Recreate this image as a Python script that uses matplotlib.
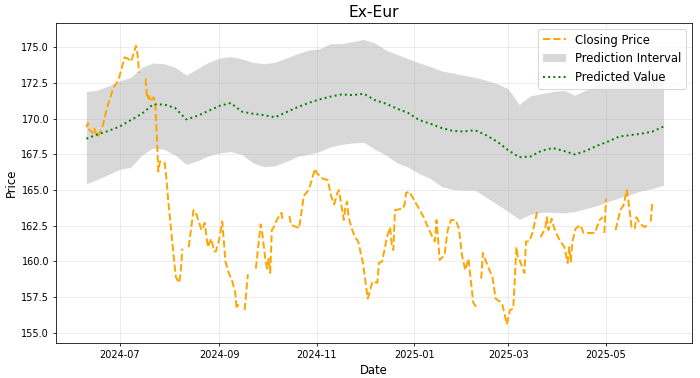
import numpy as np
import pandas as pd
import matplotlib
matplotlib.use('Agg')
import matplotlib.pyplot as plt
import matplotlib.dates as mdates

# %% data
start = pd.Timestamp('2024-06-10')
end = pd.Timestamp('2025-06-06')

pred_values = [
    168.6, 168.9, 169.15, 169.45, 169.9, 170.35, 171.0, 171.0, 170.75, 169.95,
    170.2, 170.55, 170.9, 171.1, 170.5, 170.35, 170.25, 170.1, 170.45, 170.8,
    171.1, 171.35, 171.55, 171.7, 171.65, 171.75, 171.3, 171.05, 170.7, 170.4,
    169.9, 169.65, 169.35, 169.15, 169.1, 169.2, 168.85, 168.4, 167.8, 167.3,
    167.35, 167.75, 167.95, 167.75, 167.5, 167.75, 168.1, 168.4, 168.75, 168.85,
    168.95, 169.1, 169.45,
]
upper_values = [
    171.9, 172.0, 172.3, 172.65, 172.9, 173.6, 173.9, 173.85, 173.6, 173.05,
    173.5, 173.95, 174.25, 174.35, 174.2, 173.95, 173.85, 173.95, 174.25, 174.55,
    174.8, 174.9, 175.26, 175.26, 175.4, 175.55, 175.3, 174.8, 174.5, 174.2,
    173.9, 173.65, 173.35, 173.2, 173.05, 172.9, 172.7, 172.45, 172.1, 171.0,
    171.6, 171.75, 171.9, 172.0, 171.65, 172.0, 172.3, 172.5, 172.7, 172.85,
    172.95, 173.05, 173.15,
]
lower_values = [
    165.45, 165.75, 166.1, 166.45, 166.6, 167.45, 167.95, 167.85, 167.45, 166.8,
    167.05, 167.4, 167.6, 167.7, 167.5, 166.9, 166.65, 166.7, 167.0, 167.35,
    167.5, 167.7, 168.03, 168.2, 168.3, 168.35, 167.85, 167.45, 166.9, 166.6,
    166.15, 165.8, 165.25, 165.05, 165.0, 165.0, 164.5, 164.0, 163.5, 162.95,
    163.3, 163.45, 163.45, 163.4, 163.5, 163.7, 163.9, 164.2, 164.45, 164.7,
    164.95, 165.1, 165.35,
]

# closing price: days since start, value (None = missing)
close_days = [
    0, 1, 2, 4, 5, 7, 10, 13, 17, 20, 22, 24, 26, 28, 31, 32, 33, 35,
    37, 38, 39, 40, 42, 43, 44, 45, 46, 48, 49, 50, 51, 53, 55, 56, 58, 59, 60, 62,
    64, 67, 69, 72, 73, 74, 76, 78, 80, 81, 83, 85, 87, 89, 91, 93, 94, 95, 97,
    99, 100, 101, 103,
    106, 109, 110, 112, 113, 114, 115, 116, 118, 119, 122, 123, 125,
    127, 128, 132, 133, 136, 139, 141, 143, 144, 148, 151, 153, 155, 157, 158,
    159, 161, 162, 163, 164, 166, 168, 170, 173, 176, 177, 179, 182, 183, 185,
    188, 190, 191, 192, 193, 198, 199, 200, 202, 205, 208, 211, 214, 217, 218,
    219, 220, 221, 224, 226, 228, 231, 233, 235, 237, 239, 242, 244, 246,
    247, 248, 251, 254, 256, 260, 263, 265, 267, 269, 270, 271, 274, 275, 277,
    279, 282, 283,
    284, 287, 288, 289, 291, 293, 296, 299, 301, 302, 303, 304, 306, 309, 311,
    315, 318, 321, 323, 323.5,
    324, 325, 328,
    331, 334, 336, 338, 339, 341, 343, 344, 346, 349, 351, 352,
    353, 354,
]
close_values = [
    169.4, 169.7, 169.2, 169.0, 169.3, 168.7, 169.4, 170.8, 172.2, 172.7, 173.5,
    174.3, 174.2, 174.0, 175.1, 174.5, 173.2, None,
    172.8, 171.4, 171.6, 171.2, 171.5, 171.2, 169.0, 166.3, 167.0, 167.0, 166.9,
    165.9, 164.5, 162.2, 159.9, 158.9, 158.5, 159.2, 160.9, None,
    161.0, 163.6, 163.25, 162.2, 162.4, 162.7, 161.0, 161.6, 160.7, 160.7, 161.5,
    162.8, 160.0, 159.2, 158.7, 157.9, 156.7, 157.0, None,
    156.6, 157.8, 159.1, None,
    159.5, 162.6, 162.0, 160.1, 159.5, 160.2, 159.2, 162.2, 162.55, 162.9, 163.4,
    162.8, None,
    163.2, 162.55, 162.4, 162.3, 164.6, 165.0, 165.7, 166.5, 166.2, 165.8, 165.7,
    164.6, 164.0, 164.8, 165.0, 164.3, 162.9, 163.8, 164.2, 163.1, 162.3, 161.7,
    161.4, 159.9, 157.4, 157.8, 158.6, 158.5, 159.9, 160.0, 161.7, 162.4, 161.2,
    160.8, 163.6, 163.7, 164.0, 164.8, 164.9, 164.3, 163.7, 163.1, 162.3, 161.6,
    161.4, 162.9, 161.5, 160.1, 160.45, 162.2, 162.9, 162.9, 162.3, 160.4, 159.4,
    160.2, 157.1, 156.8, None,
    158.8, 160.6, 159.7, 158.9, 157.4, 157.07, 155.6, 156.6, 156.7, 161.0, 160.2,
    160.1, 159.2, 161.4, 161.4, 162.0, 163.5, None,
    161.7, 162.3, 163.1, 162.2, 163.0, 162.2, 161.5, 161.0, 159.9, 161.0, 160.0,
    161.4, 162.3, 162.55, 162.0, 162.0, 162.0, 162.9, 163.1, None,
    162.0, 164.4, None,
    162.2, 163.6, 163.95, 165.0, 164.3, 162.4, 162.3, 163.1, 162.7, 162.4,
    162.55, None,
    162.8, 164.2,
]

# %% prep
pred_dates = pd.date_range(start, end, periods=len(pred_values))
close_dates = start + pd.to_timedelta(close_days, unit='D')
close = np.array([np.nan if v is None else v for v in close_values])

# %% plot
fig, ax = plt.subplots(figsize=(10, 5.4), dpi=70)
fig.subplots_adjust(left=0.08, right=0.989, top=0.939, bottom=0.093)

ax.plot(close_dates, close, color='orange', ls='--', lw=2, label='Closing Price')
ax.fill_between(pred_dates, lower_values, upper_values, color='gray', alpha=0.3,
                lw=0, label='Prediction Interval')
ax.plot(pred_dates, pred_values, color='green', ls=':', lw=2, label='Predicted Value')

ax.set_title('Ex-Eur', fontsize=16)
ax.set_xlabel('Date', fontsize=12)
ax.set_ylabel('Price', fontsize=12)
ax.tick_params(labelsize=10)
ax.xaxis.set_major_locator(mdates.MonthLocator(bymonth=[1, 3, 5, 7, 9, 11]))
ax.xaxis.set_major_formatter(mdates.DateFormatter('%Y-%m'))
ax.set_xlim(pd.Timestamp('2024-05-22'), pd.Timestamp('2025-06-24'))
ax.set_ylim(154.3, 176.7)
ax.grid(True, alpha=0.3)
ax.legend(loc='upper right', fontsize=12)

fig.savefig('out.png')
